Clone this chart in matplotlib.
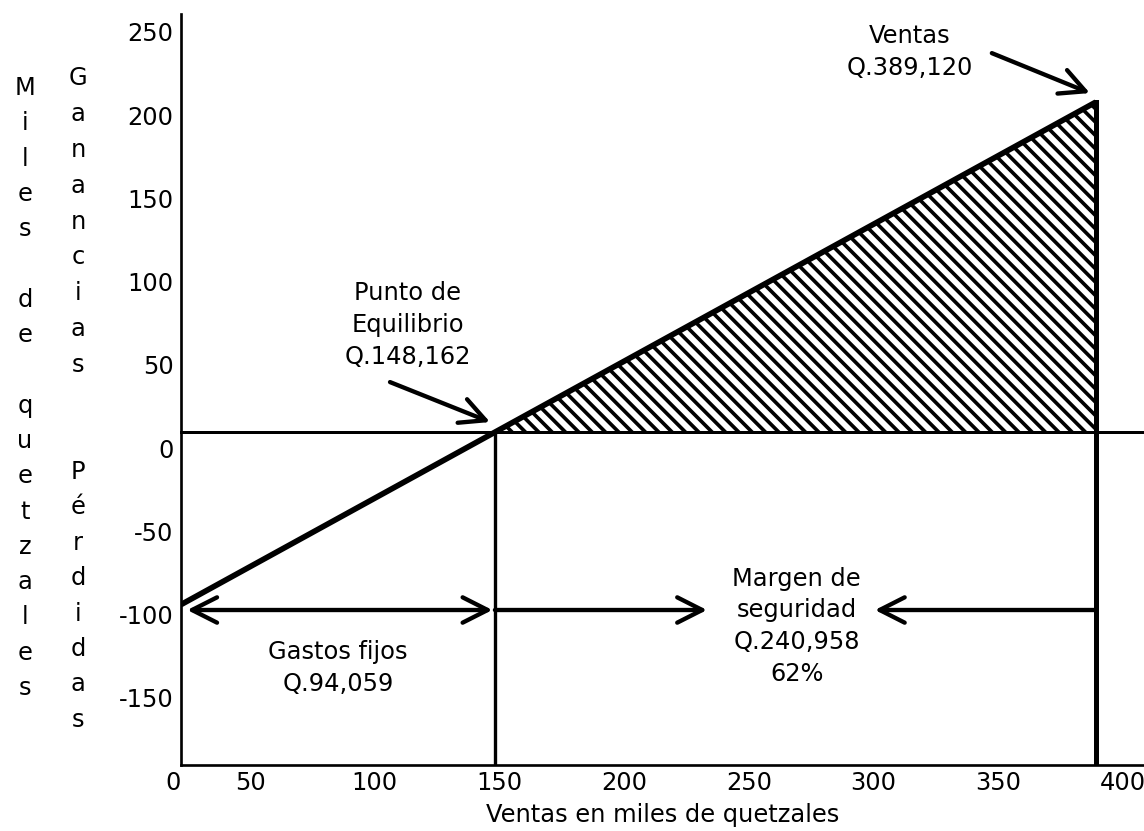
import numpy as np
import matplotlib.pyplot as plt

plt.rcParams['font.family'] = ['DejaVu Sans']
plt.rcParams['hatch.linewidth'] = 2.2

# values in miles de quetzales
# (the hand drawn x axis is not to scale near the origin: its "0" sits at ~22)
origen_x = 22.3
x_ticks = [origen_x, 50, 100, 150, 200, 250, 300, 350, 400]
x_labels = ['0', '50', '100', '150', '200', '250', '300', '350', '400']
y_ticks = [-150, -100, -50, 0, 50, 100, 150, 200, 250]
y_labels = ['-150', '-100', '-50', '0', '50', '100', '150', '200', '250']

ventas = 389.12
equilibrio = 148.162
gastos_fijos = 94.059
linea_cero = 9.6          # drawn break-even level
ganancia_en_ventas = 207.8
nivel_flechas = -97.3

linea_x = [origen_x, ventas]
linea_y = [-gastos_fijos, ganancia_en_ventas]

FS = 14.5

fig = plt.figure(figsize=(1144 / 120, 831 / 120), dpi=120)
ax = fig.add_axes([181 / 1144, 66 / 831, 963 / 1144, 751 / 831])
ax.set_xlim(origen_x, 408.4)
ax.set_ylim(-190.4, 260.7)

for s in ['top', 'right']:
    ax.spines[s].set_visible(False)
for s in ['left', 'bottom']:
    ax.spines[s].set_linewidth(1.6)

ax.set_xticks(x_ticks)
ax.set_xticklabels(x_labels)
ax.set_yticks(y_ticks)
ax.set_yticklabels(y_labels)
ax.tick_params(axis='both', length=0, labelsize=FS)
ax.tick_params(axis='x', pad=3.5)
ax.tick_params(axis='y', pad=4.5)
ax.get_xticklabels()[0].set_ha('right')
ax.set_xlabel('Ventas en miles de quetzales', fontsize=FS, labelpad=5)

# hatched profit area
y_eq = np.interp(equilibrio, linea_x, linea_y)
ax.fill([equilibrio, ventas, ventas], [y_eq, ganancia_en_ventas, linea_cero],
        facecolor='white', edgecolor='black', hatch=chr(92) * 3, linewidth=0)

# break-even line, verticals and profit line
ax.plot([origen_x, 408.4], [linea_cero, linea_cero], color='black', lw=1.8, clip_on=False)
ax.plot([equilibrio, equilibrio], [-190.4, linea_cero], color='black', lw=2)
ax.plot([ventas, ventas], [-190.4, ganancia_en_ventas], color='black', lw=3)
ax.plot(linea_x, linea_y, color='black', lw=3.4, solid_capstyle='butt')

head = dict(color='black', lw=2.6, shrinkA=0, shrinkB=0, mutation_scale=20)
estilo = '->,head_length=0.75,head_width=0.38'

# arrows at the gastos fijos / margen de seguridad level
ax.annotate('', xy=(origen_x + 2.5, nivel_flechas), xytext=(equilibrio - 1, nivel_flechas),
            arrowprops=dict(arrowstyle='<->,head_length=0.75,head_width=0.38', **head))
ax.annotate('', xy=(233.2, nivel_flechas), xytext=(equilibrio, nivel_flechas),
            arrowprops=dict(arrowstyle=estilo, **head))
ax.annotate('', xy=(300.5, nivel_flechas), xytext=(ventas, nivel_flechas),
            arrowprops=dict(arrowstyle=estilo, **head))

# callouts
ax.annotate('', xy=(386.7, 213.2), xytext=(347.4, 237.2),
            arrowprops=dict(arrowstyle=estilo, **head))
ax.annotate('', xy=(146.2, 15.6), xytext=(106.1, 39.6),
            arrowprops=dict(arrowstyle=estilo, **head))

txt = dict(fontsize=FS, ha='center', va='center', linespacing=1.42)
ax.text(314.6, 237.8, 'Ventas\nQ.389,120', **txt)
ax.text(113.3, 73.9, 'Punto de\nEquilibrio\nQ.148,162', **txt)
ax.text(85.2, -132.1, 'Gastos fijos\nQ.94,059', **txt)
ax.text(269.2, -107.2, 'Margen de\nseguridad\nQ.240,958\n62%', **txt)

# stacked y-axis titles, one letter per line
def columna(texto, x_px, y0_px, paso):
    for i, ch in enumerate(texto):
        if ch != ' ':
            fig.text(x_px / 1144, 1 - (y0_px + i * paso) / 831, ch,
                     fontsize=FS, ha='center', va='center')

columna('Miles de quetzales', 25, 88, 35.3)
columna('Ganancias', 78, 78, 35.9)
columna('Pérdidas', 78, 472, 35.4)

fig.savefig('out.png', dpi=120)
